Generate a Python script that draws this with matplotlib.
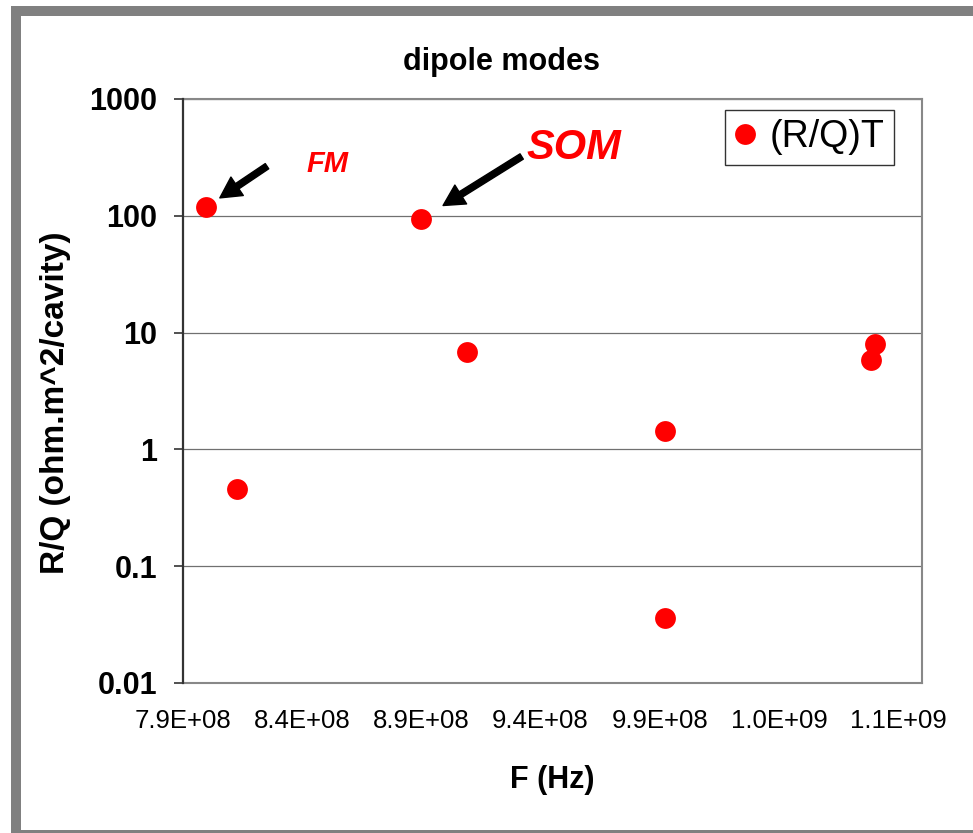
import matplotlib
matplotlib.use("Agg")
import matplotlib.pyplot as plt
from matplotlib.patches import Rectangle

plt.rcParams['font.family'] = ['Liberation Sans', 'DejaVu Sans']

# Dipole mode frequencies (Hz) and transverse R/Q (ohm.m^2/cavity)
freq_hz = [7.9965e8, 8.1265e8, 8.897e8, 9.090e8, 9.922e8, 9.922e8, 1.0785e9, 1.0803e9]
rq_t = [118.5, 0.458, 93.0, 6.78, 1.44, 0.036, 5.83, 7.99]

x_ticks = [7.9e8, 8.4e8, 8.9e8, 9.4e8, 9.9e8, 1.04e9, 1.09e9]
x_tick_labels = ["7.9E+08", "8.4E+08", "8.9E+08", "9.4E+08", "9.9E+08", "1.0E+09", "1.1E+09"]
y_ticks = [0.01, 0.1, 1, 10, 100, 1000]
y_tick_labels = ["0.01", "0.1", "1", "10", "100", "1000"]

# index of the fundamental mode and the strongest other mode
fm_idx = 0
som_idx = 2

W, H = 973, 833
fig = plt.figure(figsize=(W / 100, H / 100), dpi=100)
fig.patch.set_facecolor("white")

# gray outer frame
fig.add_artist(Rectangle((11 / W, -0.1), 1.2, 1 - 6 / H + 0.1,
                         transform=fig.transFigure, facecolor="#808080",
                         edgecolor="none", zorder=0))
fig.add_artist(Rectangle((21 / W, 3 / H), 1.2, 1 - 16 / H - 3 / H,
                         transform=fig.transFigure, facecolor="white",
                         edgecolor="none", zorder=0))

ax = fig.add_axes([183 / W, (H - 683) / H, (922 - 183) / W, (683 - 99) / H])
ax.set_facecolor("white")

ax.plot(freq_hz, rq_t, linestyle="none", marker="o", markersize=15,
        markerfacecolor="#ff0000", markeredgecolor="none", label="(R/Q)T",
        zorder=3)

ax.set_yscale("log")
ax.set_xlim(7.9e8, 1.1e9)
ax.set_ylim(0.01, 1000)

ax.set_xticks(x_ticks)
ax.set_xticklabels(x_tick_labels, fontsize=18.5)
ax.set_yticks(y_ticks)
ax.set_yticklabels(y_tick_labels, fontsize=22, fontweight="bold")
ax.yaxis.set_minor_locator(matplotlib.ticker.NullLocator())
ax.tick_params(axis="x", length=0, pad=19)
ax.tick_params(axis="y", length=6.5, width=1.2, color="#333333", pad=12)

ax.grid(axis="y", color="#707070", linewidth=0.9)
ax.set_axisbelow(True)

for side in ["top", "right", "bottom"]:
    ax.spines[side].set_color("#888888")
    ax.spines[side].set_linewidth(1.5)
ax.spines["left"].set_color("#333333")
ax.spines["left"].set_linewidth(1.6)
ax.spines["left"].set_zorder(4)

ax.set_xlabel("F (Hz)", fontsize=22, fontweight="bold", labelpad=23)
ax.set_ylabel("R/Q (ohm.m^2/cavity)", fontsize=24, fontweight="bold")
ax.yaxis.set_label_coords((71 - 183) / (922 - 183), 0.5 - 12 / 584)

fig.text(501 / W, 1 - 62 / H, "dipole modes", ha="center", va="center",
         fontsize=22, fontweight="bold")

arrow_style = dict(arrowstyle="simple,head_length=1.5,head_width=1.6,tail_width=0.45",
                   color="black", mutation_scale=10, shrinkA=0)

ax.annotate("", xy=(freq_hz[fm_idx], rq_t[fm_idx]), xytext=(61, 41),
            textcoords="offset pixels",
            arrowprops=dict(arrow_style, shrinkB=12))
ax.annotate("", xy=(freq_hz[som_idx], rq_t[som_idx]), xytext=(101, 63),
            textcoords="offset pixels",
            arrowprops=dict(arrow_style, shrinkB=19))

ax.annotate("FM", xy=(freq_hz[fm_idx], rq_t[fm_idx]), xytext=(121, 43),
            textcoords="offset pixels", ha="center", va="center",
            fontsize=21, fontweight="bold", fontstyle="italic", color="#ff0000")
ax.annotate("SOM", xy=(freq_hz[som_idx], rq_t[som_idx]), xytext=(153, 71),
            textcoords="offset pixels", ha="center", va="center",
            fontsize=30, fontweight="bold", fontstyle="italic", color="#ff0000")

leg = ax.legend(loc="upper right", bbox_to_anchor=(894 / W, 1 - 110 / H),
                bbox_transform=fig.transFigure, borderaxespad=0,
                fontsize=27, frameon=True, fancybox=False, borderpad=0.25,
                handlelength=0.6, handletextpad=0.35, markerscale=1.0)
leg.get_frame().set_edgecolor("black")
leg.get_frame().set_linewidth(1.0)

fig.savefig("out.png", dpi=100, facecolor="white")
